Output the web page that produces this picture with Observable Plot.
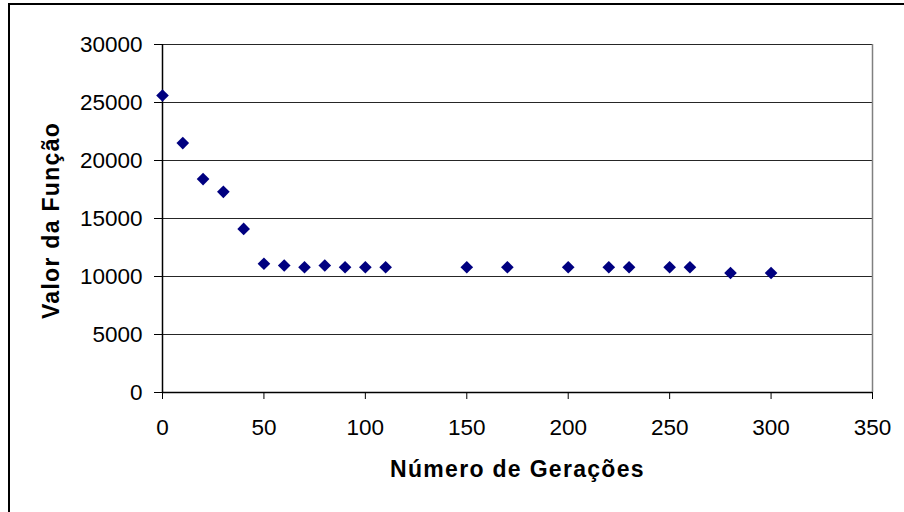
<!DOCTYPE html>
<html><head><meta charset="utf-8">
<script src="https://cdn.jsdelivr.net/npm/d3@7"></script>
<script src="https://cdn.jsdelivr.net/npm/@observablehq/plot@0.6"></script>
<style>
body{margin:0;background:#fff;overflow:hidden;width:904px;height:512px;position:relative;font-family:"Liberation Sans",Arial,sans-serif;color:#000}
#frame{position:absolute;left:8px;top:3px;width:1000px;height:1000px;border:2px solid #000;box-sizing:border-box;pointer-events:none}
#chart{position:absolute;left:0;top:0}
#chart g[aria-label="text"] text{letter-spacing:1.3px}
</style></head><body><div id="chart"></div><div id="frame"></div>
<script>
const generations = [0,10,20,30,40,50,60,70,80,90,100,110,150,170,200,220,230,250,260,280,300];
const values = [25600,21500,18400,17300,14100,11100,10950,10800,10950,10800,10800,10800,10800,10800,10800,10800,10800,10800,10800,10300,10300];
const xTicks = [0,50,100,150,200,250,300,350];
const yTicks = [0,5000,10000,15000,20000,25000,30000];
const xTitle = "Número de Gerações";
const yTitle = "Valor da Função";

const data = generations.map((g,i)=>({g, v: values[i]}));

const chart = Plot.plot({
  width: 904, height: 512,
  marginLeft: 162, marginRight: 32, marginTop: 44, marginBottom: 120,
  style: {fontFamily: '"Liberation Sans", Arial, sans-serif', background: "transparent", color: "#000"},
  x: {domain: [0, 350]},
  y: {domain: [0, 30000]},
  marks: [
    Plot.ruleY(yTicks, {stroke: "#000", strokeOpacity: 0.85}),
    Plot.ruleX([350], {stroke: "#808080", strokeWidth: 1.5}),
    Plot.axisY({ticks: yTicks, tickSize: 8, tickPadding: 12, fontSize: 22.5, label: null, tickFormat: d => String(d)}),
    Plot.axisX({ticks: xTicks, tickSize: 7, tickPadding: 20, fontSize: 22.5, label: null, tickFormat: d => String(d)}),
    Plot.ruleY([0], {stroke: "#000", strokeWidth: 1.5}),
    Plot.ruleX([0], {stroke: "#000", strokeWidth: 1.5}),
    Plot.text([xTitle], {frameAnchor: "bottom", dy: 84, fontWeight: "bold", fontSize: 23, text: d => d}),
    Plot.text([yTitle], {frameAnchor: "left", textAnchor: "middle", dx: -111, dy: 2, rotate: -90, fontWeight: "bold", fontSize: 23, text: d => d}),
    Plot.dot(data, {x: "g", y: "v", symbol: "diamond2", r: 5.7, fill: "#000080", stroke: "none"})
  ]
});
document.getElementById("chart").append(chart);
</script></body></html>
